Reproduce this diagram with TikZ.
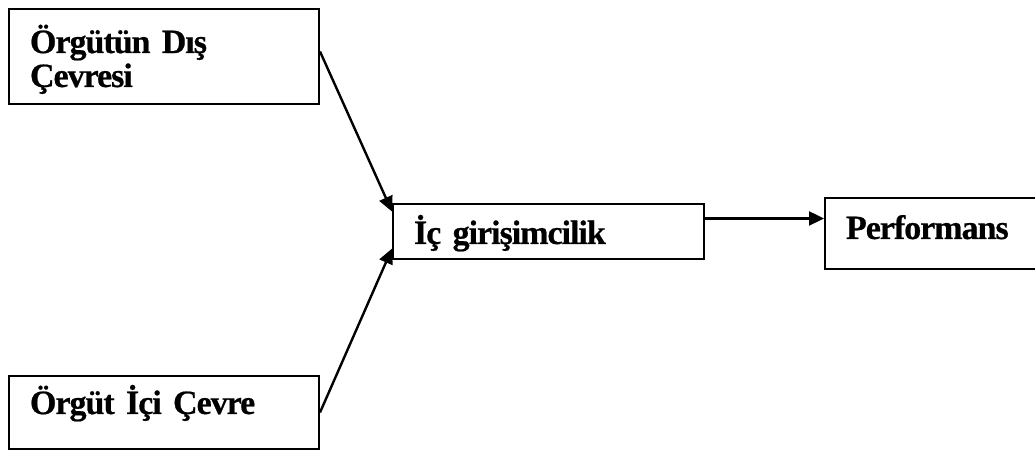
\documentclass[tikz,border=0pt]{standalone}
\usepackage{fontspec}
\setmainfont{Liberation Serif}[LetterSpace=-3, WordSpace=0.8, BoldFeatures={FakeBold=0.6}]
\usetikzlibrary{arrows.meta, calc}

\begin{document}
\begin{tikzpicture}[x=0.5pt, y=-0.5pt, >={Triangle[length=7.5pt, width=7pt]},
			box/.style={draw, line width=1pt, anchor=north west, inner xsep=10.5pt, inner ysep=0pt,
				align=left, font=\fontsize{17}{17}\selectfont\bfseries},
			link/.style={->, line width=1.2pt}]
			\useasboundingbox (0,0) rectangle (1035,453);
			
			\node[box, text width=134pt, text height=39pt, text depth=8.5pt]   (A) at (8,8)
				{\begin{tabular}[b]{@{}l@{}}Örgütün Dış\\Çevresi\end{tabular}};
			\node[box, text width=134pt, text height=19pt, text depth=17.5pt]  (B) at (8,375)   {Örgüt İçi Çevre};
			\node[box, text width=134.5pt, text height=20pt, text depth=7.5pt] (C) at (392,203) {İç girişimcilik};
			\node[box, text width=86.5pt, text height=20.5pt, text depth=15pt] (D) at (824,197) {Performans};
			
			%Oklar:
			\coordinate (cd) at ($(C.east)+(0,-13)$);
			\draw[link] ($(A.east)+(0,-5)$) -- ($(C.west)!0.7!(C.north west)$);
			\draw[link] (B.east) -- ($(C.west)!0.6!(C.south west)$);
			\draw[link] (cd) -- (cd -| D.west);
		\end{tikzpicture}
\end{document}
